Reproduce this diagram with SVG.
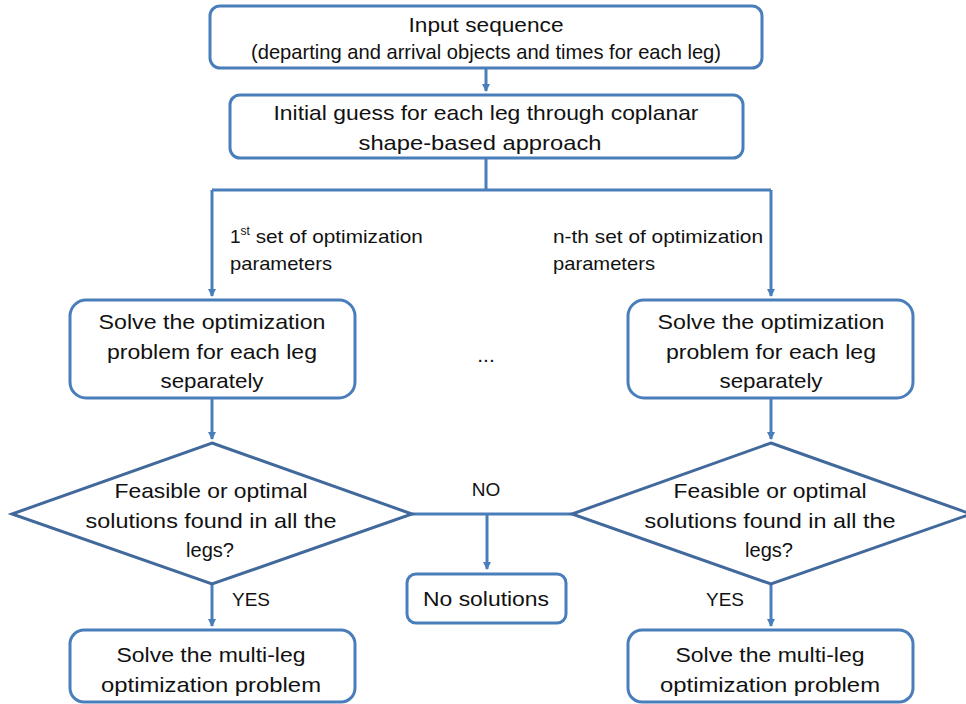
<svg xmlns="http://www.w3.org/2000/svg" width="966" height="704" viewBox="0 0 966 704">
<defs>
<marker id="ah" markerWidth="8" markerHeight="8" refX="7" refY="4" orient="auto" markerUnits="userSpaceOnUse">
<path d="M0,0 L8,4 L0,8 Z" fill="#4A7EBB"/>
</marker>
<style>
.box{fill:#fff;stroke:#4A7EBB;stroke-width:3}
.dia{fill:#fff;stroke:#41699C;stroke-width:3}
.ln{fill:none;stroke:#4A7EBB;stroke-width:3}
.t{font-family:"Liberation Sans",Arial,sans-serif;font-size:21px;fill:#111;text-anchor:middle}
.s{font-family:"Liberation Sans",Arial,sans-serif;font-size:19px;fill:#111}
</style>
</defs>
<rect width="966" height="704" fill="#fff"/>
<g id="connectors">
<path class="ln" d="M486,68 V91" marker-end="url(#ah)"/>
<path class="ln" d="M486,158 V190 M212,190 H771"/>
<path class="ln" d="M212,190 V296" marker-end="url(#ah)"/>
<path class="ln" d="M771,190 V296" marker-end="url(#ah)"/>
<path class="ln" d="M212,398 V439" marker-end="url(#ah)"/>
<path class="ln" d="M771,398 V439" marker-end="url(#ah)"/>
<path class="ln" d="M412,514 H572"/>
<path class="ln" d="M487,514 V569" marker-end="url(#ah)"/>
<path class="ln" d="M212,584 V626" marker-end="url(#ah)"/>
<path class="ln" d="M771,584 V626" marker-end="url(#ah)"/>
<text class="s" x="230" y="243">1<tspan font-size="12" dy="-8">st</tspan><tspan dy="8" textLength="173" lengthAdjust="spacingAndGlyphs"> set of optimization</tspan></text>
<text class="s" x="230" y="270" textLength="102" lengthAdjust="spacingAndGlyphs">parameters</text>
<text class="s" x="553" y="243" textLength="210" lengthAdjust="spacingAndGlyphs">n-th set of optimization</text>
<text class="s" x="553" y="270" textLength="102" lengthAdjust="spacingAndGlyphs">parameters</text>
<text class="s" x="486" y="496" text-anchor="middle">NO</text>
<text class="s" x="251" y="606" text-anchor="middle">YES</text>
<text class="s" x="725" y="606" text-anchor="middle">YES</text>
</g>
<g id="input">
<rect class="box" x="210" y="6" width="552" height="62" rx="10"/>
<text class="t" x="486" y="32" textLength="155" lengthAdjust="spacingAndGlyphs">Input sequence</text>
<text class="t" x="486" y="59" textLength="470" lengthAdjust="spacingAndGlyphs">(departing and arrival objects and times for each leg)</text>
</g>
<g id="initial">
<rect class="box" x="230" y="95" width="513" height="63" rx="10"/>
<text class="t" x="486" y="120" textLength="425" lengthAdjust="spacingAndGlyphs">Initial guess for each leg through coplanar</text>
<text class="t" x="480" y="150" textLength="243" lengthAdjust="spacingAndGlyphs">shape-based  approach</text>
</g>
<g id="solve1">
<rect class="box" x="70" y="300" width="285" height="98" rx="16"/>
<text class="t" x="212" y="329" textLength="227" lengthAdjust="spacingAndGlyphs">Solve the optimization</text>
<text class="t" x="212" y="359" textLength="210" lengthAdjust="spacingAndGlyphs">problem for each leg</text>
<text class="t" x="212" y="388" textLength="103" lengthAdjust="spacingAndGlyphs">separately</text>
</g>
<g id="dots">
<text class="t" x="486" y="362">...</text>
</g>
<g id="solveN">
<rect class="box" x="628" y="300" width="285" height="98" rx="16"/>
<text class="t" x="771" y="329" textLength="227" lengthAdjust="spacingAndGlyphs">Solve the optimization</text>
<text class="t" x="771" y="359" textLength="210" lengthAdjust="spacingAndGlyphs">problem for each leg</text>
<text class="t" x="771" y="388" textLength="103" lengthAdjust="spacingAndGlyphs">separately</text>
</g>
<g id="decision1">
<polygon class="dia" points="212,443 412,514 212,584 12,514"/>
<text class="t" x="211" y="498" textLength="193" lengthAdjust="spacingAndGlyphs">Feasible or optimal</text>
<text class="t" x="211" y="528" textLength="251" lengthAdjust="spacingAndGlyphs">solutions found in all the</text>
<text class="t" x="210" y="557" textLength="48" lengthAdjust="spacingAndGlyphs">legs?</text>
</g>
<g id="decisionN">
<polygon class="dia" points="771,443 971,514 771,584 572,514"/>
<text class="t" x="770" y="498" textLength="193" lengthAdjust="spacingAndGlyphs">Feasible or optimal</text>
<text class="t" x="770" y="528" textLength="251" lengthAdjust="spacingAndGlyphs">solutions found in all the</text>
<text class="t" x="769" y="557" textLength="48" lengthAdjust="spacingAndGlyphs">legs?</text>
</g>
<g id="nosol">
<rect class="box" x="407" y="574" width="159" height="49" rx="9"/>
<text class="t" x="486" y="606" textLength="126" lengthAdjust="spacingAndGlyphs">No solutions</text>
</g>
<g id="multi1">
<rect class="box" x="70" y="630" width="285" height="72" rx="14"/>
<text class="t" x="211" y="662" textLength="189" lengthAdjust="spacingAndGlyphs">Solve the multi-leg</text>
<text class="t" x="211" y="692" textLength="220" lengthAdjust="spacingAndGlyphs">optimization problem</text>
</g>
<g id="multiN">
<rect class="box" x="628" y="630" width="285" height="72" rx="14"/>
<text class="t" x="770" y="662" textLength="189" lengthAdjust="spacingAndGlyphs">Solve the multi-leg</text>
<text class="t" x="770" y="692" textLength="220" lengthAdjust="spacingAndGlyphs">optimization problem</text>
</g>
</svg>
